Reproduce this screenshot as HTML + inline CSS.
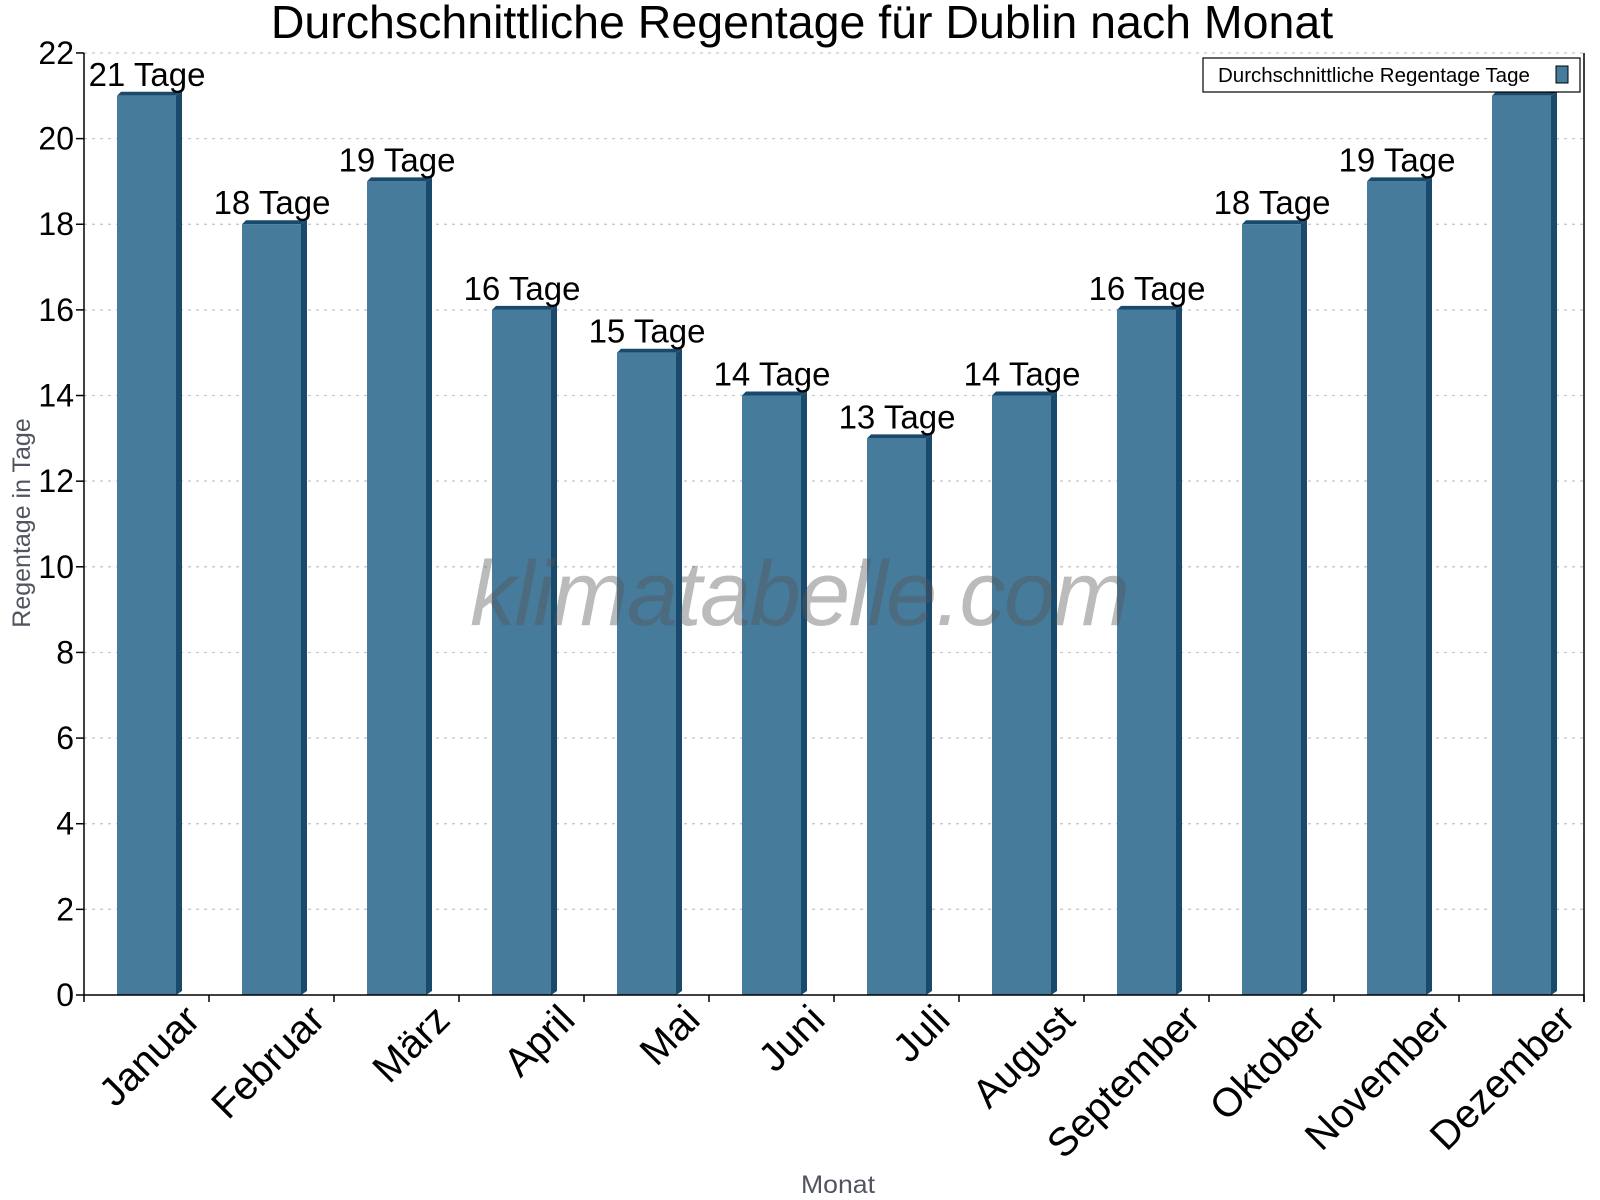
<!DOCTYPE html>
<html><head><meta charset="utf-8"><style>html,body{margin:0;padding:0;background:#fff}svg{display:block}</style></head>
<body>
<svg width="1600" height="1200" xmlns="http://www.w3.org/2000/svg" font-family="Liberation Sans, sans-serif">
<rect width="1600" height="1200" fill="#fff"/>
<text x="802" y="38" font-size="46.5" text-anchor="middle" fill="#000">Durchschnittliche Regentage für Dublin nach Monat</text>
<g stroke="#c8c8c8" stroke-dasharray="3,5" stroke-width="1.3">
<line x1="84" x2="1584" y1="53" y2="53"/><line x1="84" x2="1584" y1="138.6" y2="138.6"/><line x1="84" x2="1584" y1="224.3" y2="224.3"/><line x1="84" x2="1584" y1="310" y2="310"/><line x1="84" x2="1584" y1="395.5" y2="395.5"/><line x1="84" x2="1584" y1="481" y2="481"/><line x1="84" x2="1584" y1="566.8" y2="566.8"/><line x1="84" x2="1584" y1="652.5" y2="652.5"/><line x1="84" x2="1584" y1="738" y2="738"/><line x1="84" x2="1584" y1="823.7" y2="823.7"/><line x1="84" x2="1584" y1="909.3" y2="909.3"/>
</g>
<g id="bars"></g>
<g stroke="#000" stroke-width="1.5">
<line x1="84" y1="53" x2="84" y2="1002"/><line x1="84" y1="995" x2="1584" y2="995"/><line x1="1584" y1="53" x2="1584" y2="1002"/>
</g>
<g id="ticks"></g>
<text x="800" y="625" font-size="92" font-style="italic" text-anchor="middle" fill="#555" fill-opacity="0.4" textLength="660">klimatabelle.com</text>
<text transform="translate(30,523) rotate(-90)" font-size="25" text-anchor="middle" fill="#50555f">Regentage in Tage</text>
<text x="838" y="1193" font-size="25" text-anchor="middle" fill="#50555f" textLength="74" lengthAdjust="spacingAndGlyphs">Monat</text>
<rect x="1203" y="58" width="377" height="34" fill="#fff" stroke="#000" stroke-width="1.2"/>
<text x="1218" y="82" font-size="20.5" fill="#000">Durchschnittliche Regentage Tage</text>
<rect x="1556" y="66" width="12" height="17" fill="#467b9c" stroke="#000" stroke-width="1"/>
<script>
var v=[21,18,19,16,15,14,13,14,16,18,19,21],m=["Januar","Februar","März","April","Mai","Juni","Juli","August","September","Oktober","November","Dezember"];
var ns="http://www.w3.org/2000/svg",b=document.getElementById("bars"),t=document.getElementById("ticks");
function el(p,n,a,txt){var e=document.createElementNS(ns,n);for(var k in a)e.setAttribute(k,a[k]);if(txt!=null)e.textContent=txt;p.appendChild(e);return e;}
var y0=995,u=42.82;
for(var i=0;i<12;i++){var x=84+125*i,tp=y0-v[i]*u;
el(b,"polygon",{points:(x+92)+","+tp+" "+(x+98)+","+(tp-4)+" "+(x+98)+","+(y0-4)+" "+(x+92)+","+y0,fill:"#1a4a6b"});
el(b,"polygon",{points:(x+33)+","+tp+" "+(x+37)+","+(tp-4)+" "+(x+98)+","+(tp-4)+" "+(x+92)+","+tp,fill:"#1a4a6b"});
el(b,"rect",{x:x+33,y:tp,width:59,height:y0-tp,fill:"#467b9c"});
el(b,"text",{x:x+63,y:tp-10,"font-size":33,"text-anchor":"middle",fill:"#000"},v[i]+" Tage");
el(t,"line",{x1:x+125,y1:y0,x2:x+125,y2:y0+7,stroke:"#000","stroke-width":1.5});
el(t,"text",{transform:"translate("+(x+118)+",1022) rotate(-45)","font-size":40,"text-anchor":"end",fill:"#000"},m[i]);}
for(var k=0;k<=22;k+=2){var yy=y0-k*u;el(t,"line",{x1:76,y1:yy,x2:84,y2:yy,stroke:"#000","stroke-width":1.5});
el(t,"text",{x:74,y:yy+11,"font-size":32,"text-anchor":"end",fill:"#000"},k);}
</script>
</svg>
</body></html>
